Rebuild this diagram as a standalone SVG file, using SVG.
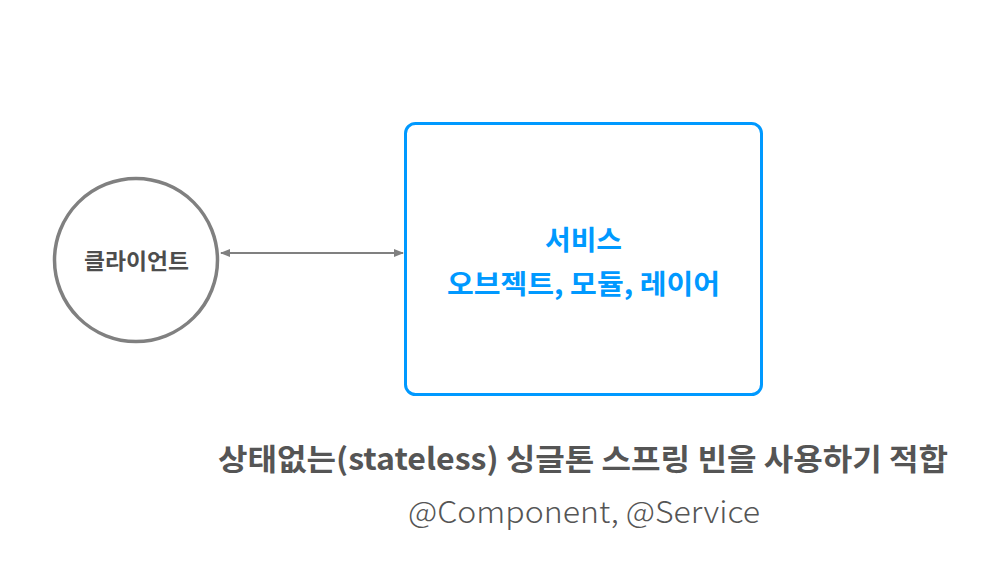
<svg xmlns="http://www.w3.org/2000/svg" width="1005" height="564" viewBox="0 0 1005 564">
<style>
.kr{font-family:"Noto Sans CJK KR","Noto Sans",sans-serif;}
.lbl{font-weight:bold;text-anchor:middle;}
</style>
<defs>
<marker id="ah" markerWidth="10" markerHeight="10" refX="9" refY="5" orient="auto-start-reverse" markerUnits="userSpaceOnUse">
<path d="M0,1 L10,5 L0,9 Z" fill="#808080"/>
</marker>
</defs>
<rect width="1005" height="564" fill="#ffffff"/>
<g id="client">
<circle cx="136" cy="260" r="81.5" fill="none" stroke="#808080" stroke-width="3.5"/>
<text class="kr lbl" x="136.5" y="269" font-size="22" fill="#4d4d4d" textLength="105" lengthAdjust="spacingAndGlyphs">클라이언트</text>
</g>
<g id="service">
<rect x="405.5" y="123.5" width="356" height="271" rx="10" fill="none" stroke="#0099ff" stroke-width="3"/>
<text class="kr lbl" x="583.5" y="250" font-size="27" font-weight="900" fill="#0099ff" textLength="77" lengthAdjust="spacingAndGlyphs">서비스</text>
<text class="kr lbl" x="583.5" y="294" font-size="27" font-weight="900" fill="#0099ff" textLength="273" lengthAdjust="spacingAndGlyphs">오브젝트, 모듈, 레이어</text>
</g>
<g id="connectors">
<line x1="221" y1="253" x2="403" y2="253" stroke="#808080" stroke-width="2" marker-start="url(#ah)" marker-end="url(#ah)"/>
</g>
<g id="caption">
<text class="kr" x="583" y="470" font-size="30" font-weight="bold" text-anchor="middle" fill="#555555" textLength="730" lengthAdjust="spacingAndGlyphs">상태없는(stateless) 싱글톤 스프링 빈을 사용하기 적합</text>
<text class="kr" x="584" y="523" font-size="30" font-weight="300" text-anchor="middle" fill="#555555" textLength="352" lengthAdjust="spacingAndGlyphs">@Component, @Service</text>
</g>
</svg>
